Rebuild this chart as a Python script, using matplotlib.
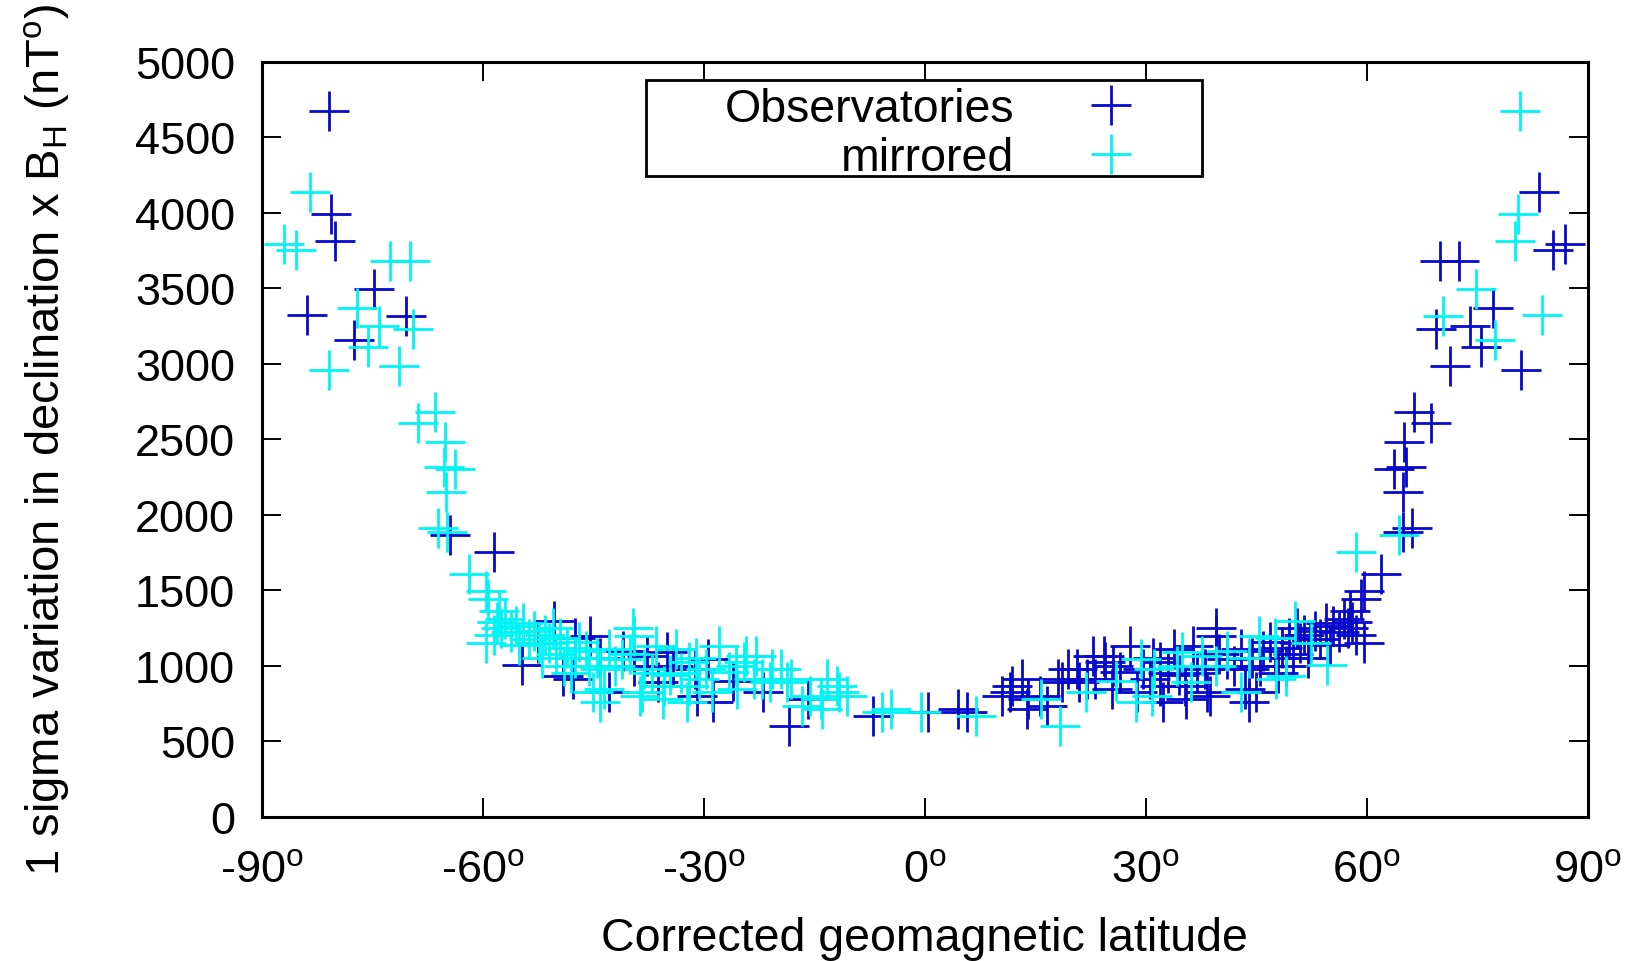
import matplotlib
matplotlib.use("Agg")
import matplotlib.pyplot as plt
from matplotlib.patches import Rectangle
import numpy as np

plt.rcParams['font.family'] = ['Liberation Sans', 'DejaVu Sans']
plt.rcParams['mathtext.fontset'] = 'custom'
plt.rcParams['mathtext.rm'] = 'Liberation Sans'
plt.rcParams['mathtext.it'] = 'Liberation Sans'

# observatories: corrected geomagnetic latitude (deg) and 1 sigma D x BH (nT deg)
obs_lat = np.array([
    -83.8, -80.8, -80.6, -80.1, -77.4, -74.8, -70.4, -64.4, -58.5, -54.6,
    -52.5, -50.3, -49.1, -47.7, -47.5, -45.4, -44.0, -42.9, -41.0, -39.5,
    -37.7, -36.2, -35.0, -34.2, -31.2, -30.9, -29.4, -28.7, -26.0, -21.9,
    -18.4, -15.8, -7.0,
    0.5, 4.5, 5.8, 10.5, 11.6, 11.9, 13.2, 13.9, 14.1, 15.6,
    16.6, 18.1, 18.7, 19.5, 20.7, 21.0, 22.1, 22.9, 23.2, 24.3,
    24.5, 25.5, 25.6, 26.5, 27.9, 28.9, 29.7, 30.6, 31.0, 32.0,
    32.0, 32.3, 33.0, 33.8, 34.5, 35.4, 35.5, 36.5, 37.0, 38.1,
    38.4, 38.7, 39.5, 39.6, 40.0, 41.1, 42.0, 42.9, 43.5, 44.0,
    44.1, 44.5, 45.0, 45.5, 46.0, 46.9, 47.5, 48.0, 48.5, 49.0,
    49.5, 50.0, 50.5, 51.0, 51.5, 52.0, 52.3, 53.0, 53.7, 54.5,
    55.0, 55.5, 56.2, 56.9, 57.5, 57.8, 58.0, 58.5, 59.6, 59.2,
    59.6, 61.9, 64.9, 66.1, 65.0, 63.7, 65.3, 65.1, 68.8, 66.4,
    71.3, 80.9, 75.5, 69.4, 74.1, 77.1, 69.9, 72.6, 85.3, 87.0,
    83.4,
])
obs_sigma = np.array([
    3325, 4675, 3990, 3815, 3159, 3497, 3318, 1868, 1755, 1007,
    1150, 1298, 934, 914, 1180, 1199, 1050, 828, 1100, 1000,
    1066, 894, 1093, 1000, 980, 801, 1046, 762, 900, 828,
    603, 780, 669,
    695, 715, 695, 801, 828, 868, 914, 715, 781, 801,
    735, 914, 894, 980, 980, 894, 914, 1066, 914, 1066,
    1026, 848, 1000, 960, 1132, 828, 980, 914, 1050, 1026,
    868, 762, 950, 1113, 940, 868, 781, 1132, 950, 980,
    828, 801, 1199, 1250, 1080, 1046, 1000, 1113, 848, 980,
    762, 1050, 828, 1000, 1100, 1159, 1050, 950, 1120, 1000,
    1180, 1080, 1250, 1150, 1200, 1050, 1150, 1230, 1179, 1280,
    1140, 1265, 1220, 1311, 1250, 1360, 1290, 1200, 1152, 1440,
    1497, 1609, 1887, 1914, 2152, 2305, 2318, 2483, 2609, 2682,
    2987, 2960, 3113, 3232, 3252, 3371, 3682, 3682, 3755, 3795,
    4139,
])

# same stations reflected about the geomagnetic equator
mirror_lat = -obs_lat
mirror_sigma = obs_sigma

xticks = [-90, -60, -30, 0, 30, 60, 90]
yticks = np.arange(0, 5001, 500)

fs = 32.5
fig = plt.figure(figsize=(16.35, 9.62), dpi=100)
ax = fig.add_axes([0.160, 0.150, 0.811, 0.785])

mk = dict(linestyle='none', marker='+', markersize=29, markeredgewidth=2.0)
ax.plot(obs_lat, obs_sigma, color='#0808cc', label='Observatories', **mk)
ax.plot(mirror_lat, mirror_sigma, color='#00f4f4', label='mirrored', **mk)

ax.set_xlim(-90, 90)
ax.set_ylim(0, 5000)
ax.set_xticks(xticks)
ax.set_xticklabels([f'{t}$^{{\\rm o}}$' for t in xticks])
ax.set_yticks(yticks)
ax.tick_params(direction='in', length=14, width=1.4, top=True, right=True,
               labelsize=fs)
ax.tick_params(axis='x', pad=24)
ax.tick_params(axis='y', pad=19)
for s in ax.spines.values():
    s.set_linewidth(2.2)

ax.set_xlabel('Corrected geomagnetic latitude', fontsize=33.5, labelpad=18)
ax.set_ylabel(r'1 sigma variation in declination x B$_{\rm H}$ (nT$^{\rm o}$)',
              fontsize=34, labelpad=45)

# key box
ax.add_patch(Rectangle((0.290, 0.849), 0.419, 0.127, transform=ax.transAxes,
                       facecolor='white', edgecolor='black', linewidth=2.0,
                       zorder=4))
leg = ax.legend(loc='upper right', bbox_to_anchor=(0.662, 0.972),
                markerfirst=False, fontsize=33.5, frameon=False,
                handlelength=1.0, handletextpad=1.6, labelspacing=0.1,
                borderpad=0.1, borderaxespad=0)
leg.set_zorder(5)

fig.savefig('out.png', dpi=100)
